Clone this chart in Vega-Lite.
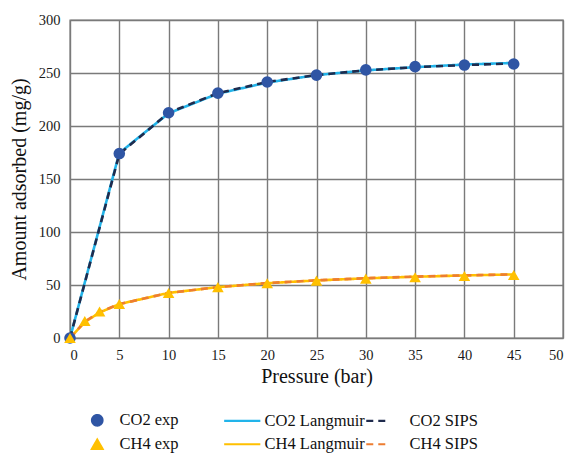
{
  "$schema": "https://vega.github.io/schema/vega-lite/v6.json",
  "width": 493,
  "height": 318,
  "autosize": {"type": "none"},
  "padding": {"left": 70, "top": 20, "right": 9, "bottom": 115},
  "background": "white",
  "config": {
    "font": "Times New Roman",
    "view": {"stroke": "#7f7f7f", "strokeWidth": 1.4},
    "axis": {
      "labelFont": "Times New Roman",
      "labelFontSize": 14.5,
      "labelFontWeight": 400,
      "labelColor": "#1a1a1a",
      "titleFont": "Times New Roman",
      "titleFontSize": 20,
      "titleFontWeight": 400,
      "titleColor": "#111111",
      "ticks": false,
      "domain": false,
      "grid": true,
      "gridColor": "#7a7a7a",
      "gridWidth": 1.4,
      "gridOpacity": 1
    },
    "legend": {
      "labelFont": "Times New Roman",
      "labelFontSize": 16.5,
      "labelColor": "#111111"
    }
  },
  "datasets": {
    "exp": [
      {"series": "CO2 exp", "pressure": 0, "value": 0},
      {"series": "CO2 exp", "pressure": 5, "value": 174},
      {"series": "CO2 exp", "pressure": 10, "value": 212.5},
      {"series": "CO2 exp", "pressure": 15, "value": 231},
      {"series": "CO2 exp", "pressure": 20, "value": 241.5},
      {"series": "CO2 exp", "pressure": 25, "value": 248},
      {"series": "CO2 exp", "pressure": 30, "value": 253},
      {"series": "CO2 exp", "pressure": 35, "value": 256},
      {"series": "CO2 exp", "pressure": 40, "value": 257.5},
      {"series": "CO2 exp", "pressure": 45, "value": 258.5},
      {"series": "CH4 exp", "pressure": 0, "value": 0},
      {"series": "CH4 exp", "pressure": 1.5, "value": 16},
      {"series": "CH4 exp", "pressure": 3, "value": 25},
      {"series": "CH4 exp", "pressure": 5, "value": 32},
      {"series": "CH4 exp", "pressure": 10, "value": 42.5},
      {"series": "CH4 exp", "pressure": 15, "value": 48},
      {"series": "CH4 exp", "pressure": 20, "value": 51.6},
      {"series": "CH4 exp", "pressure": 25, "value": 54.1},
      {"series": "CH4 exp", "pressure": 30, "value": 56},
      {"series": "CH4 exp", "pressure": 35, "value": 57.3},
      {"series": "CH4 exp", "pressure": 40, "value": 58.5},
      {"series": "CH4 exp", "pressure": 45, "value": 59.4}
    ],
    "models": [
      {"series": "CO2 Langmuir", "pressure": 0, "value": 0},
      {"series": "CO2 Langmuir", "pressure": 5, "value": 174.5},
      {"series": "CO2 Langmuir", "pressure": 10, "value": 212},
      {"series": "CO2 Langmuir", "pressure": 15, "value": 230.5},
      {"series": "CO2 Langmuir", "pressure": 20, "value": 241},
      {"series": "CO2 Langmuir", "pressure": 25, "value": 248},
      {"series": "CO2 Langmuir", "pressure": 30, "value": 252.5},
      {"series": "CO2 Langmuir", "pressure": 35, "value": 255.5},
      {"series": "CO2 Langmuir", "pressure": 40, "value": 258},
      {"series": "CO2 Langmuir", "pressure": 45, "value": 259.5},
      {"series": "CO2 SIPS", "pressure": 0, "value": 0},
      {"series": "CO2 SIPS", "pressure": 5, "value": 173.5},
      {"series": "CO2 SIPS", "pressure": 10, "value": 212.5},
      {"series": "CO2 SIPS", "pressure": 15, "value": 231},
      {"series": "CO2 SIPS", "pressure": 20, "value": 241.5},
      {"series": "CO2 SIPS", "pressure": 25, "value": 248},
      {"series": "CO2 SIPS", "pressure": 30, "value": 252.5},
      {"series": "CO2 SIPS", "pressure": 35, "value": 255.5},
      {"series": "CO2 SIPS", "pressure": 40, "value": 257.5},
      {"series": "CO2 SIPS", "pressure": 45, "value": 259},
      {"series": "CH4 Langmuir", "pressure": 0, "value": 0},
      {"series": "CH4 Langmuir", "pressure": 1.5, "value": 15},
      {"series": "CH4 Langmuir", "pressure": 3, "value": 24},
      {"series": "CH4 Langmuir", "pressure": 5, "value": 32},
      {"series": "CH4 Langmuir", "pressure": 10, "value": 42.5},
      {"series": "CH4 Langmuir", "pressure": 15, "value": 48},
      {"series": "CH4 Langmuir", "pressure": 20, "value": 51.7},
      {"series": "CH4 Langmuir", "pressure": 25, "value": 54.3},
      {"series": "CH4 Langmuir", "pressure": 30, "value": 56.3},
      {"series": "CH4 Langmuir", "pressure": 35, "value": 57.8},
      {"series": "CH4 Langmuir", "pressure": 40, "value": 59},
      {"series": "CH4 Langmuir", "pressure": 45, "value": 60},
      {"series": "CH4 SIPS", "pressure": 0, "value": 0},
      {"series": "CH4 SIPS", "pressure": 1.5, "value": 15.5},
      {"series": "CH4 SIPS", "pressure": 3, "value": 24.5},
      {"series": "CH4 SIPS", "pressure": 5, "value": 32},
      {"series": "CH4 SIPS", "pressure": 10, "value": 42.5},
      {"series": "CH4 SIPS", "pressure": 15, "value": 48},
      {"series": "CH4 SIPS", "pressure": 20, "value": 51.8},
      {"series": "CH4 SIPS", "pressure": 25, "value": 54.4},
      {"series": "CH4 SIPS", "pressure": 30, "value": 56.4},
      {"series": "CH4 SIPS", "pressure": 35, "value": 57.9},
      {"series": "CH4 SIPS", "pressure": 40, "value": 59.1},
      {"series": "CH4 SIPS", "pressure": 45, "value": 60.1}
    ]
  },
  "encoding": {
    "x": {
      "field": "pressure",
      "type": "quantitative",
      "scale": {"domain": [0, 50], "nice": false},
      "axis": {
        "title": "Pressure (bar)",
        "values": [0, 5, 10, 15, 20, 25, 30, 35, 40, 45, 50],
        "labelFont": "Times New Roman",
        "labelPadding": 10,
        "titlePadding": 5
      }
    },
    "y": {
      "field": "value",
      "type": "quantitative",
      "scale": {"domain": [0, 300], "nice": false},
      "axis": {
        "title": "Amount adsorbed (mg/g)",
        "values": [0, 50, 100, 150, 200, 250, 300],
        "labelFont": "Times New Roman",
        "labelPadding": 10,
        "titlePadding": 9
      }
    },
    "color": {
      "field": "series",
      "type": "nominal",
      "scale": {
        "domain": ["CO2 exp", "CO2 Langmuir", "CO2 SIPS", "CH4 exp", "CH4 Langmuir", "CH4 SIPS"],
        "range": ["#2F55A4", "#22B4EA", "#1F2B4D", "#FFC000", "#FFC000", "#ED7D31"]
      },
      "legend": {
        "title": null,
        "orient": "none",
        "legendX": 19,
        "legendY": 392,
        "columns": 3,
        "direction": "horizontal",
        "padding": 0,
        "gridAlign": "all",
        "columnPadding": -4,
        "rowPadding": 5,
        "labelOffset": 14,
        "symbolSize": 110,
        "symbolStrokeWidth": 2.2
      }
    }
  },
  "layer": [
    {
      "data": {"name": "models"},
      "mark": {"type": "line", "strokeWidth": 2.6},
      "encoding": {
        "strokeDash": {
          "field": "series",
          "type": "nominal",
          "scale": {
            "domain": ["CO2 exp", "CO2 Langmuir", "CO2 SIPS", "CH4 exp", "CH4 Langmuir", "CH4 SIPS"],
            "range": [[1, 0], [1, 0], [7, 5], [1, 0], [1, 0], [7, 5]]
          }
        }
      }
    },
    {
      "data": {"name": "exp"},
      "mark": {"type": "point", "filled": true, "size": 135, "opacity": 1},
      "encoding": {
        "shape": {
          "field": "series",
          "type": "nominal",
          "scale": {
            "domain": ["CO2 exp", "CO2 Langmuir", "CO2 SIPS", "CH4 exp", "CH4 Langmuir", "CH4 SIPS"],
            "range": ["circle", "M-3.45,0H3.45", "M-4,0H0.4", "triangle-up", "M-3.45,0H3.45", "M-4,0H0.4"]
          }
        }
      }
    }
  ]
}
